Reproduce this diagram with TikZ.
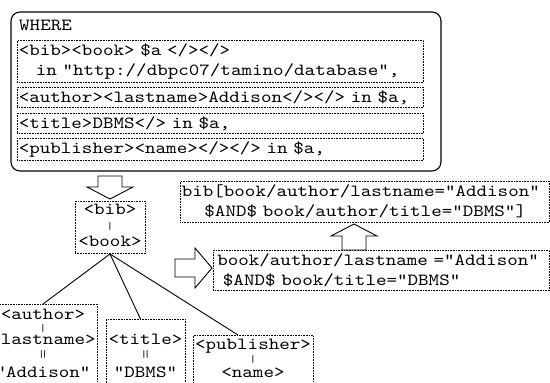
\documentclass[tikz,border=0pt]{standalone}
\usepackage{fontspec}
\newfontfamily\codice{lmmono10-regular.otf}[FakeStretch=1.18]
\newcommand{\barra}{{\fontsize{10}{10}\selectfont |}}
\newcommand{\doppia}{{\fontsize{10}{10}\selectfont |\kern-0.3em|}}

\begin{document}
\begin{tikzpicture}[
    x=1pt, y=-1pt,
    font=\codice\fontsize{17}{20}\selectfont,
    riquadro/.style={draw,densely dotted,line width=0.6pt,anchor=north west,
                     align=left,inner xsep=1.5pt,inner ysep=0pt},
    nodo/.style={draw,densely dotted,line width=0.6pt,anchor=north,
                 align=center,inner xsep=2pt,inner ysep=3pt},
    cornice/.style={line width=1.1pt,rounded corners=9pt},
    ramo/.style={line width=0.9pt},
    freccia/.style={line width=0.9pt,fill=white}]

  \clip (0,0) rectangle (550,383);

  % --- la clausola WHERE con le sue quattro condizioni ---
  \draw[cornice] (11,12) rectangle (441,171);
  \node[anchor=base west,inner sep=0pt] (dove) at (19,30) {WHERE};

  \node[riquadro,text width=403pt,minimum height=42pt] (sorgente) at (17,40)
    {<bib><book> \$a </></>\\ \mbox{}\ \ \ in "http://dbpc07/tamino/database",};
  \node[riquadro,text width=403pt,minimum height=20pt] (cond1) at (17,87)
    {<author><lastname>Addison</></> in \$a,};
  \node[riquadro,text width=403pt,minimum height=20pt] (cond2) at (17,113)
    {<title>DBMS</> in \$a,};
  \node[riquadro,text width=403pt,minimum height=22pt] (cond3) at (17,138)
    {<publisher><name></></> in \$a,};

  % --- l'albero del pattern ---
  \node[nodo,minimum width=70pt,text depth=4pt] (libro) at (110,201)
    {<bib>\\[-5pt]\barra\\[-3pt]<book>};
  \node[nodo,inner ysep=5pt,text depth=80pt] (autore) at (43,304)
    {<author>\\[-8pt]\barra\\[-7pt]<lastname>\\[-7pt]\doppia\\"Addison"};
  \node[nodo,minimum width=79pt,inner ysep=15pt,text depth=80pt] (titolo) at (145.5,319)
    {<title>\\[-7pt]\doppia\\"DBMS"};
  \node[nodo,inner ysep=4pt,text depth=80pt] (editore) at (253,335)
    {<publisher>\\[-7pt]\barra\\[-5pt]<name>};

  \draw[ramo] (libro.south) -- (autore.north);
  \draw[ramo] (libro.south) -- ([xshift=-5pt]titolo.north);
  \draw[ramo] (libro.south) -- ([xshift=-15pt]editore.north);

  % --- le due espressioni di cammino ---
  \node[riquadro,text width=366pt,minimum height=41pt] (cammino) at (180,181)
    {bib[book/author/lastname="Addison"\\ \mbox{}\ \ \ \ \$AND\$ book/author/title="DBMS"]};
  \node[riquadro,inner xsep=4pt,text width=328pt,minimum height=40pt] (filtro) at (213,250)
    {book/author/lastname ="Addison"\\ \mbox{}\ \$AND\$ book/title="DBMS"};

  % --- frecce vuote ---
  \draw[freccia] (98,176) -- (122,176) -- (122,187) -- (133,187)
    -- (110,199) -- (87,187) -- (98,187) -- cycle;
  \draw[freccia] (175,259) -- (195,259) -- (195,248) -- (212,268)
    -- (195,288) -- (195,277) -- (175,277) -- cycle;
  \draw[freccia] (342,250) -- (342,236) -- (331,236) -- (354,224)
    -- (377,236) -- (366,236) -- (366,250) -- cycle;

\end{tikzpicture}
\end{document}
